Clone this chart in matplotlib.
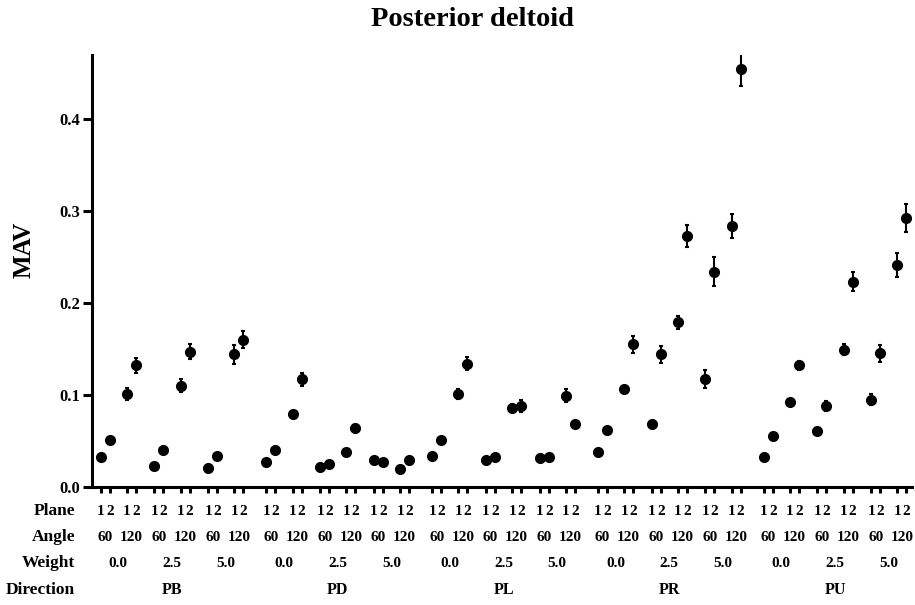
import numpy as np
import matplotlib
matplotlib.use('Agg')
import matplotlib.pyplot as plt
import matplotlib.transforms as mtransforms

plt.rcParams['font.family'] = ['Liberation Serif', 'DejaVu Serif']
plt.rcParams['font.weight'] = 'bold'

# Factor levels, nested as direction > weight > angle > plane
directions = ['PB', 'PD', 'PL', 'PR', 'PU']
weights = ['0.0', '2.5', '5.0']
angles = ['60', '120']
planes = ['1', '2']

# Mean MAV per direction, ordered weight -> angle -> plane
mav_pb = [0.033, 0.051, 0.101, 0.132, 0.023, 0.040, 0.110, 0.147, 0.021, 0.034, 0.144, 0.160]
mav_pd = [0.027, 0.040, 0.079, 0.117, 0.022, 0.025, 0.038, 0.064, 0.029, 0.027, 0.020, 0.029]
mav_pl = [0.034, 0.051, 0.101, 0.134, 0.029, 0.033, 0.086, 0.088, 0.031, 0.033, 0.099, 0.068]
mav_pr = [0.038, 0.062, 0.106, 0.155, 0.068, 0.144, 0.179, 0.273, 0.117, 0.234, 0.283, 0.454]
mav_pu = [0.033, 0.055, 0.092, 0.132, 0.061, 0.088, 0.149, 0.223, 0.095, 0.145, 0.241, 0.292]

# Standard errors, same ordering
se_pb = [0.002, 0.003, 0.006, 0.008, 0.002, 0.002, 0.007, 0.008, 0.002, 0.002, 0.010, 0.009]
se_pd = [0.002, 0.002, 0.003, 0.007, 0.001, 0.002, 0.002, 0.003, 0.002, 0.001, 0.001, 0.002]
se_pl = [0.002, 0.002, 0.005, 0.007, 0.001, 0.002, 0.004, 0.007, 0.002, 0.002, 0.007, 0.003]
se_pr = [0.002, 0.003, 0.004, 0.009, 0.003, 0.009, 0.007, 0.012, 0.010, 0.016, 0.013, 0.019]
se_pu = [0.002, 0.003, 0.003, 0.005, 0.003, 0.005, 0.006, 0.010, 0.006, 0.009, 0.013, 0.015]

mav = np.array(mav_pb + mav_pd + mav_pl + mav_pr + mav_pu)
se = np.array(se_pb + se_pd + se_pl + se_pr + se_pu)

# spacing between neighbouring plane / angle / weight / direction groups
STEP_PLANE, STEP_ANGLE, STEP_WEIGHT, STEP_DIR = 1.0, 2.9, 5.95, 18.35

x = []
for d in range(len(directions)):
    for w in range(len(weights)):
        for a in range(len(angles)):
            for p in range(len(planes)):
                x.append(d * STEP_DIR + w * STEP_WEIGHT + a * STEP_ANGLE + p * STEP_PLANE)
x = np.array(x)

fig = plt.figure(figsize=(9.15, 6.05), dpi=100)
ax = fig.add_axes([0.1005, 0.195, 0.896, 0.714])

ax.errorbar(x, mav, yerr=se, fmt='o', color='black', markersize=7,
            elinewidth=1.5, capsize=1.5, capthick=1.5)

ax.set_xlim(x[0] - 0.97, x[-1] + 0.6)
ax.set_ylim(0, 0.469)
ax.set_yticks([0.0, 0.1, 0.2, 0.3, 0.4])
ax.set_yticklabels(['0.0', '0.1', '0.2', '0.3', '0.4'], fontsize=12, fontweight='bold')
ax.set_xticks(x)
ax.set_xticklabels([])

for side in ['top', 'right']:
    ax.spines[side].set_visible(False)
for side in ['left', 'bottom']:
    ax.spines[side].set_linewidth(2.2)
ax.tick_params(axis='y', direction='out', width=2.2, length=6.5, pad=2)
ax.tick_params(axis='x', direction='out', width=2.2, length=4.5)

ax.set_ylabel('MAV', fontsize=18, fontweight='bold')
ax.yaxis.set_label_coords(-0.069, 0.55)
fig.text(0.516, 0.967, 'Posterior deltoid', fontsize=20.5, fontweight='bold',
         ha='center', va='center')

# nested category labels under the axis
trans = mtransforms.blended_transform_factory(ax.transData, ax.transAxes)
row_y = {'Plane': -0.0556, 'Angle': -0.1157, 'Weight': -0.176, 'Direction': -0.238}
fs = 11

for i, xi in enumerate(x):
    ax.text(xi, row_y['Plane'], planes[i % 2], transform=trans,
            ha='center', va='center', fontsize=fs, fontweight='bold')

for k in range(0, len(x), 2):
    ax.text(x[k:k + 2].mean(), row_y['Angle'], angles[(k // 2) % 2], transform=trans,
            ha='center', va='center', fontsize=fs, fontweight='bold')

for k in range(0, len(x), 4):
    ax.text(x[k:k + 4].mean(), row_y['Weight'], weights[(k // 4) % 3], transform=trans,
            ha='center', va='center', fontsize=fs, fontweight='bold')

for k in range(0, len(x), 12):
    ax.text(x[k:k + 12].mean(), row_y['Direction'], directions[k // 12], transform=trans,
            ha='center', va='center', fontsize=fs + 0.5, fontweight='bold')

for name, yy in row_y.items():
    fig.text(75 / 915, ax.transAxes.transform((0, yy))[1] / fig.bbox.height, name,
             ha='right', va='center', fontsize=12.5, fontweight='bold')

fig.savefig('out.png', dpi=100)
